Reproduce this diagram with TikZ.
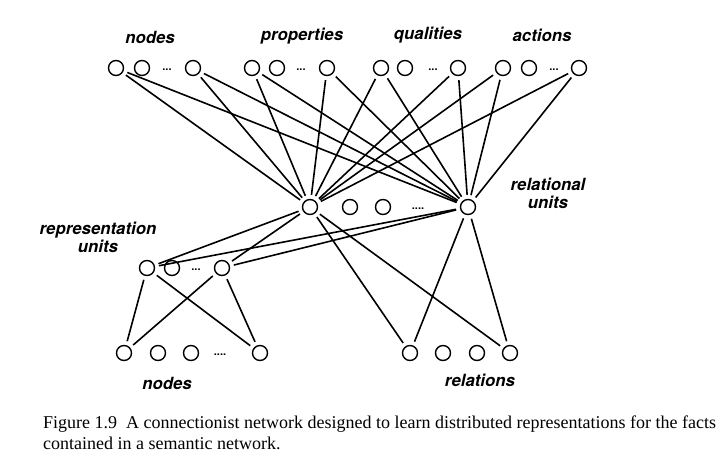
\documentclass[tikz,border=0pt]{standalone}
\usepackage{fontspec}
\setsansfont{TeX Gyre Heros}
\newfontfamily\capfont{Liberation Serif}
\usetikzlibrary{positioning}

\begin{document}
\begin{tikzpicture}[x=1pt,y=-1pt,on grid,
    unit/.style={circle,draw,minimum size=15pt,inner sep=0pt,line width=1.4pt},
    dots/.style={font=\sffamily\bfseries\fontsize{11}{11}\selectfont,inner sep=0pt},
    lbl/.style={font=\sffamily\bfseries\itshape\fontsize{16.8}{18}\selectfont,inner sep=0pt},
    link/.style={line width=1.6pt,shorten >=4pt,shorten <=4pt}]
        \useasboundingbox (0,0) rectangle (727,465);
        % input groups
        \node[unit] (n_1) at (116,68) {};
        \node[unit] (n_2) [right=26pt of n_1] {};
        \node[unit] (n_3) [right=51pt of n_2] {};
        \node[dots] (n_d) at (167,70) {...};
        \node[unit] (p_1) at (252,68) {};
        \node[unit] (p_2) [right=25pt of p_1] {};
        \node[unit] (p_3) [right=50pt of p_2] {};
        \node[dots] (p_d) at (301,70) {...};
        \node[unit] (q_1) at (381,68) {};
        \node[unit] (q_2) [right=24pt of q_1] {};
        \node[unit] (q_3) [right=53pt of q_2] {};
        \node[dots] (q_d) at (433,70) {...};
        \node[unit] (a_1) at (503,68) {};
        \node[unit] (a_2) [right=26pt of a_1] {};
        \node[unit] (a_3) [right=50pt of a_2] {};
        \node[dots] (a_d) at (554,70) {...};
        \node[lbl] (l_n) at (150,37) {nodes};
        \node[lbl] (l_p) at (302,36) {properties};
        \node[lbl] (l_q) at (428,35) {qualities};
        \node[lbl] (l_a) at (542,35) {actions};
        % relational units
        \node[unit] (r_1) at (310,207) {};
        \node[unit] (r_2) [right=40pt of r_1] {};
        \node[unit] (r_3) [right=33pt of r_2] {};
        \node[unit] (r_4) [right=85pt of r_3] {};
        \node[dots] (r_d) at (418,209) {....};
        \node[lbl,align=center] (l_r) at (548,193) {relational\\units};
        % representation units
        \node[unit] (s_1) at (147,268) {};
        \node[unit] (s_2) [right=25pt of s_1] {};
        \node[unit] (s_3) [right=50pt of s_2] {};
        \node[dots] (s_d) at (196,270) {...};
        \node[lbl,align=center] (l_s) at (98,237) {representation\\units};
        % output groups
        \node[unit] (b_1) at (124,353) {};
        \node[unit] (b_2) [right=34pt of b_1] {};
        \node[unit] (b_3) [right=33pt of b_2] {};
        \node[unit] (b_4) [right=69pt of b_3] {};
        \node[dots] (b_d) at (220,355) {....};
        \node[lbl] (l_b) at (167,383) {nodes};
        \node[unit] (c_1) at (410,353) {};
        \node[unit] (c_2) [right=33pt of c_1] {};
        \node[unit] (c_3) [right=34pt of c_2] {};
        \node[unit] (c_4) [right=33pt of c_3] {};
        \node[lbl] (l_c) at (480,380) {relations};
        % connections
        \path[link] (n_1) edge (r_1);
        \path[link] (n_1) edge (r_4);
        \path[link] (n_3) edge (r_1);
        \path[link] (n_3) edge (r_4);
        \path[link] (p_1) edge (r_1);
        \path[link] (p_1) edge (r_4);
        \path[link] (p_3) edge (r_1);
        \path[link] (p_3) edge (r_4);
        \path[link] (q_1) edge (r_1);
        \path[link] (q_1) edge (r_4);
        \path[link] (q_3) edge (r_1);
        \path[link] (q_3) edge (r_4);
        \path[link] (a_1) edge (r_1);
        \path[link] (a_1) edge (r_4);
        \path[link] (a_3) edge (r_1);
        \path[link] (a_3) edge (r_4);
        \path[link] (r_1) edge (s_1);
        \path[link] (r_1) edge (s_3);
        \path[link] (r_4) edge (s_1);
        \path[link] (r_4) edge (s_3);
        \path[link] (r_1) edge (c_1);
        \path[link] (r_1) edge (c_4);
        \path[link] (r_4) edge (c_1);
        \path[link] (r_4) edge (c_4);
        \path[link] (s_1) edge (b_1);
        \path[link] (s_1) edge (b_4);
        \path[link] (s_3) edge (b_1);
        \path[link] (s_3) edge (b_4);
        % caption
        \node[anchor=north west,align=left,inner sep=0pt,
              font=\capfont\fontsize{18}{21}\selectfont] (cap) at (43,416)
          {Figure 1.9\ \ A connectionist network designed to learn distributed representations for the facts\\
           contained in a semantic network.};
      \end{tikzpicture}
\end{document}
